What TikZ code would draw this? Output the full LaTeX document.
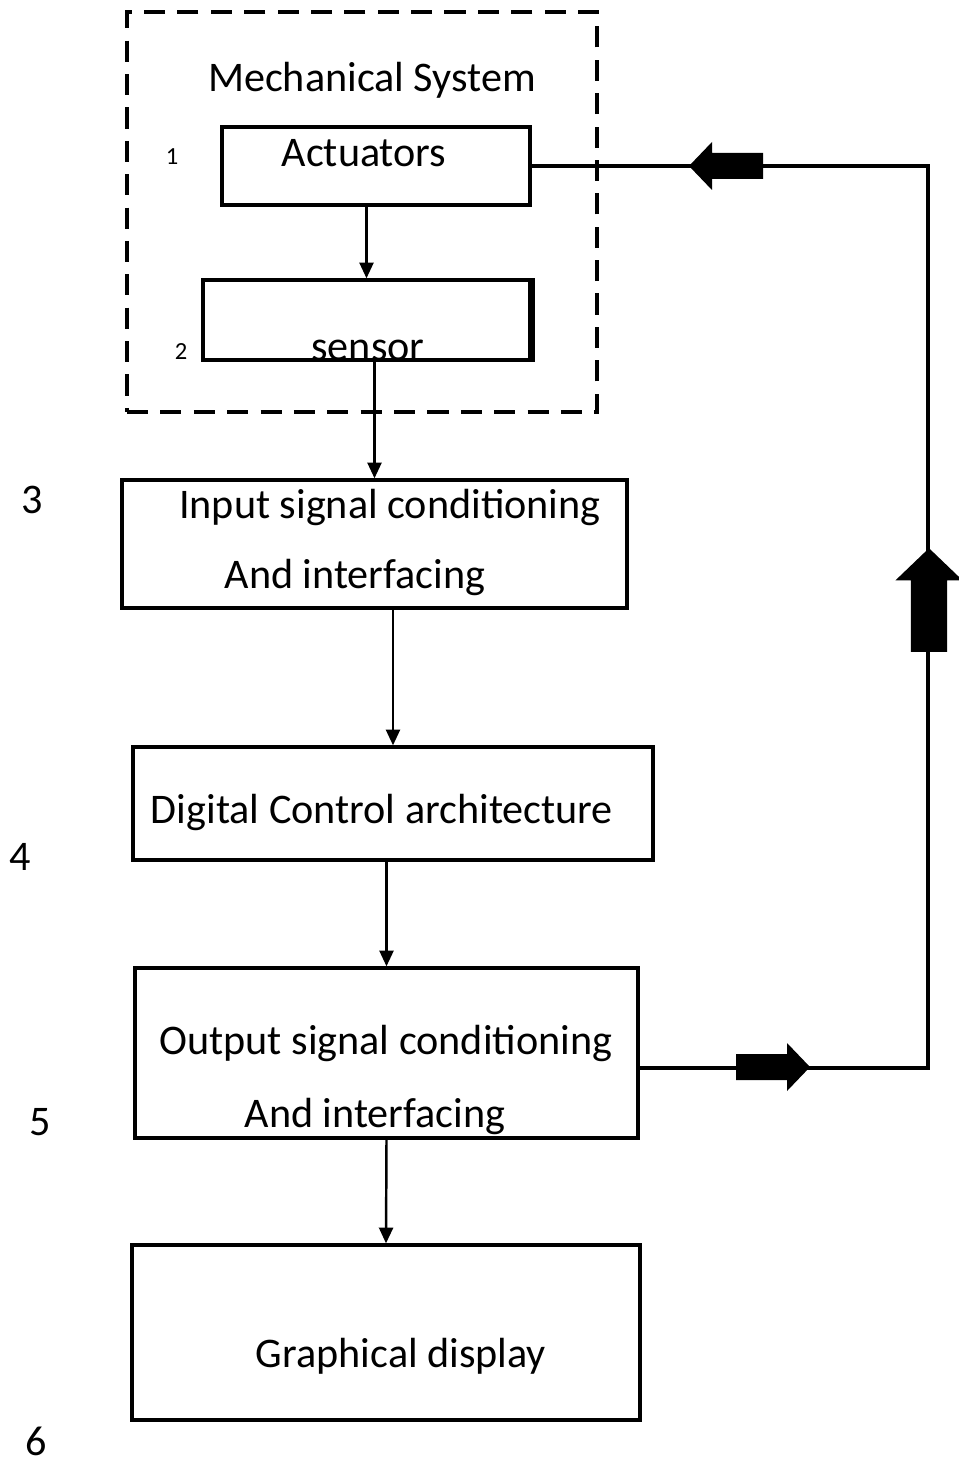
\documentclass[tikz,border=0pt]{standalone}
\usepackage{fontspec}
\setmainfont{Carlito}
\usetikzlibrary{arrows.meta,fit}

\tikzset{
	blockarrow/.pic={
		\fill (-37,-13) -- (14,-13) -- (14,-24) -- (37,0) -- (14,24) -- (14,13) -- (-37,13) -- cycle;
	}
}

\begin{document}
\begin{tikzpicture}[x=0.02cm,y=-0.02cm,
	box/.style={draw,line width=1.9pt,inner sep=0pt},
	group box/.style={draw,line width=1.9pt,dash pattern=on 12pt off 7pt,inner sep=0pt},
	txt/.style={font=\fontsize{24}{28}\selectfont,inner sep=0pt},
	small txt/.style={font=\fontsize{14}{16}\selectfont,inner sep=0pt},
	line/.style={line width=1.8pt},
	arr/.style={line width=1.4pt,-{Triangle[length=9pt,width=8pt]}}
]
	\useasboundingbox (0,0) rectangle (959,1466);

	% mechanical system
	\node[group box,fit={(127,12) (597,412)}] (mech) {};
	\node[txt] (mech title) at (372,80) {Mechanical System};
	\node[box,fit={(222,127) (530,205)}] (act) {};
	\node[txt] (act text) at (364,153) {Actuators};
	\node[box,fit={(203,280) (530,360)}] (sens) {};
	\draw[line width=3.6pt] (sens.north east) -- (sens.south east);
	\node[txt] (sens text) at (368,350) {sensor};
	\node[small txt] (n1) at (172,157) {1};
	\node[small txt] (n2) at (181,352) {2};

	% signal chain
	\node[box,fit={(122,480) (627,608)}] (inp) {};
	\node[txt] (inp text1) at (390,507) {Input signal conditioning};
	\node[txt] (inp text2) at (355,577) {And interfacing};
	\node[box,fit={(133,747) (653,860)}] (dig) {};
	\node[txt] (dig text) at (382,812) {Digital Control architecture};
	\node[box,fit={(135,968) (638,1138)}] (out) {};
	\node[txt] (out text1) at (386,1043) {Output signal conditioning};
	\node[txt] (out text2) at (375,1116) {And interfacing};
	\node[box,fit={(132,1245) (640,1420)}] (graph) {};
	\node[txt] (graph text) at (401,1356) {Graphical display};

	\node[txt] (n3) at (32,500) {3};
	\node[txt] (n4) at (20,857) {4};
	\node[txt] (n5) at (40,1122) {5};
	\node[txt] (n6) at (36,1441) {6};

	\draw[arr] (act.south -| sens.north) -- (sens.north);
	\draw[arr] (sens.south -| inp.north) -- (inp.north);
	\draw[arr] (inp.south -| dig.north) -- (dig.north);
	\draw[arr] (dig.south -| out.north) -- (out.north);
	\draw[arr] (out.south) -- (graph.north);

	% feedback loop
	\coordinate (fb1) at (928,1068);
	\coordinate (fb2) at (928,166);
	\draw[line] (out.east |- fb1) -- (fb1) -- (fb2) -- (act.east |- fb2);
	\pic at (773,1067) {blockarrow};
	\pic[rotate=90,scale=1.4] at (929,600) {blockarrow};
	\pic[rotate=180] at (726,166) {blockarrow};
\end{tikzpicture}
\end{document}
